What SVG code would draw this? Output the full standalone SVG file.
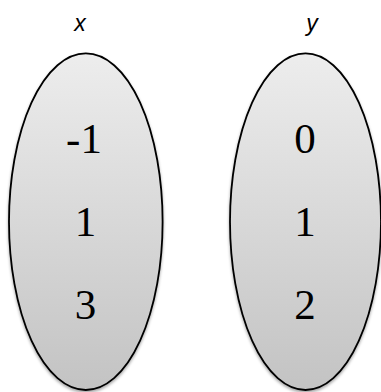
<svg xmlns="http://www.w3.org/2000/svg" width="381" height="392" viewBox="0 0 381 392">
<style>
.set{fill:url(#g);stroke:#000;stroke-width:1.8;filter:url(#sh)}
.num{font-family:"Liberation Serif","Times New Roman",serif;font-size:43px;fill:#000;text-anchor:middle}
.lab{font-family:"Liberation Sans",Arial,sans-serif;font-style:italic;font-size:23px;fill:#000;text-anchor:middle}
</style>
<defs>
<linearGradient id="g" x1="0" y1="0" x2="0" y2="1">
<stop offset="0" stop-color="#ededed"/>
<stop offset="1" stop-color="#c3c3c3"/>
</linearGradient>
<filter id="sh" x="-20%" y="-10%" width="140%" height="125%">
<feDropShadow dx="0" dy="2" stdDeviation="1.6" flood-color="#000" flood-opacity="0.35"/>
</filter>
</defs>
<g id="setX">
<ellipse class="set" cx="85.8" cy="221.7" rx="76.8" ry="168.3"/>
<text class="lab" x="80" y="31">x</text>
<text class="num" x="84" y="153">-1</text>
<text class="num" x="85.5" y="236">1</text>
<text class="num" x="85.5" y="319">3</text>
</g>
<g id="setY">
<ellipse class="set" cx="305.5" cy="221.7" rx="75.5" ry="168.3"/>
<text class="lab" x="312" y="31">y</text>
<text class="num" x="305" y="153">0</text>
<text class="num" x="305" y="236">1</text>
<text class="num" x="305" y="319">2</text>
</g>
<g id="connectors"></g>
</svg>
